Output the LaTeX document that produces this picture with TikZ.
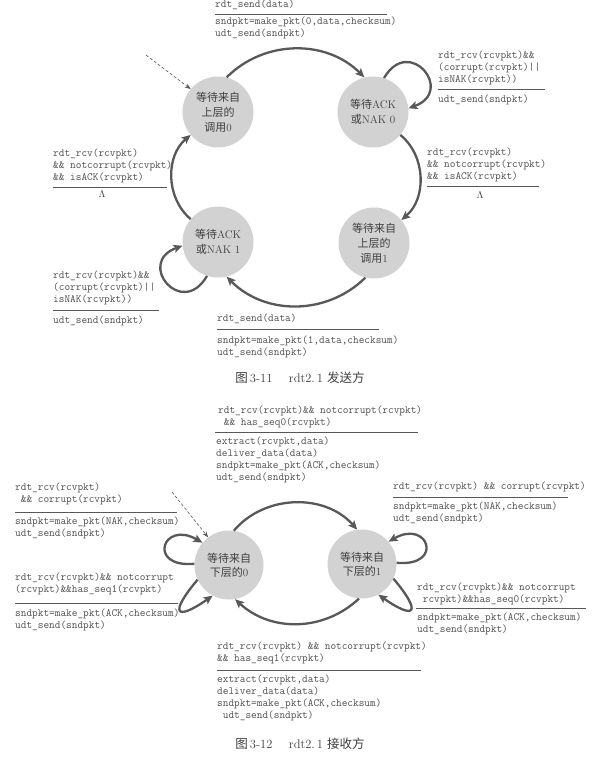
\documentclass[tikz,border=0pt]{standalone}
\usepackage{amsmath}
\usepackage{fontspec}
\newfontfamily\cjk{Noto Sans CJK SC}
\usepackage{tikz}
\usetikzlibrary{calc}
\usetikzlibrary{arrows.meta}

\definecolor{stategray}{RGB}{210,210,210}
\definecolor{arrowgray}{RGB}{88,88,88}
\definecolor{textgray}{RGB}{78,78,78}
\definecolor{labelgray}{RGB}{62,62,62}

\tikzset{
    fsmstate/.style={circle, fill=stategray, inner sep=0pt, align=center, text=labelgray},
    flow/.style={draw=arrowgray, line width=2.3pt, -{Stealth[length=9pt,width=8pt,inset=2pt]}},
    initarrow/.style={draw=arrowgray, line width=0.6pt, dash pattern=on 3pt off 2pt, -{Stealth[length=6pt,width=4.5pt]}},
    code/.style={font=\fontsize{11}{12}\selectfont\ttfamily, text=textgray, align=left, inner sep=0pt, anchor=north west},
    seprule/.style={draw=arrowgray, line width=1pt},
    figcap/.style={font=\fontsize{12.5}{14}\selectfont, text=labelgray}
}

\begin{document}
\begin{tikzpicture}[x=1pt,y=1pt]
            \fill[white] (0,0) rectangle (607,-778);
            \useasboundingbox (0,0) rectangle (607,-778);

            % Centres of the states
            \coordinate (C1) at (218,-112);  % sender, call 0
            \coordinate (C2) at (373,-112);  % sender, ACK/NAK 0
            \coordinate (C3) at (218,-242);  % sender, ACK/NAK 1
            \coordinate (C4) at (374,-243);  % sender, call 1
            \coordinate (D0) at (229,-565);  % receiver, seq 0
            \coordinate (D1) at (362,-564);  % receiver, seq 1

            % Draw sender states
            \node[fsmstate, minimum size=71pt, font=\fontsize{11}{15}\selectfont] (S1) at (C1) {{\cjk 等待来自}\\{\cjk 上层的}\\{\cjk 调用}0};
            \node[fsmstate, minimum size=71pt, font=\fontsize{11}{15}\selectfont] (S2) at (C2) {{\cjk 等待}ACK\\{\cjk 或}NAK 0};
            \node[fsmstate, minimum size=71pt, font=\fontsize{11}{15}\selectfont] (S3) at (C3) {{\cjk 等待}ACK\\{\cjk 或}NAK 1};
            \node[fsmstate, minimum size=71pt, font=\fontsize{11}{15}\selectfont] (S4) at (C4) {{\cjk 等待来自}\\{\cjk 上层的}\\{\cjk 调用}1};

            % Draw sender transitions
            \coordinate (I1) at (146,-55);
            \draw[initarrow] (I1) -- (S1.140);
            \draw[flow] (S1.76) to[bend left=45] (S2.104);
            \draw[flow] (S2.-40) to[bend left=50] (S4.40);
            \draw[flow] (S4.-104) to[bend left=45] (S3.-76);
            \draw[flow] (S3.140) to[bend left=50] (S1.220);
            \draw[flow] (S2.72) .. controls +(60:50) and +(20:50) .. (S2.6);
            \draw[flow] (S3.252) .. controls +(240:50) and +(200:50) .. (S3.186);

            % Sender labels
            \node[code] (g1) at (215,0) {rdt\_send(data)};
            \draw[seprule] (215,-14.5) -- (387,-14.5);
            \node[code] (a1) at (215,-17) {sndpkt=make\_pkt(0,data,checksum)\\udt\_send(sndpkt)};

            \node[code] (g2) at (438,-51) {rdt\_rcv(rcvpkt)\&\&\\(corrupt(rcvpkt)||\\isNAK(rcvpkt))};
            \draw[seprule] (438,-90) -- (545,-90);
            \node[code] (a2) at (438,-95) {udt\_send(sndpkt)};

            \node[code] (g3) at (427,-148) {rdt\_rcv(rcvpkt)\\\&\& notcorrupt(rcvpkt)\\\&\& isACK(rcvpkt)};
            \draw[seprule] (427,-186) -- (539,-186);
            \node[text=labelgray, inner sep=0pt] (a3) at (480,-195) {$\Lambda$};

            \node[code] (g4) at (53,-149) {rdt\_rcv(rcvpkt)\\\&\& notcorrupt(rcvpkt)\\\&\& isACK(rcvpkt)};
            \draw[seprule] (53,-187) -- (167,-187);
            \node[text=labelgray, inner sep=0pt] (a4) at (102,-194) {$\Lambda$};

            \node[code] (g5) at (53,-271) {rdt\_rcv(rcvpkt)\&\&\\(corrupt(rcvpkt)||\\isNAK(rcvpkt))};
            \draw[seprule] (53,-310) -- (159,-310);
            \node[code] (a5) at (53,-316) {udt\_send(sndpkt)};

            \node[code] (g6) at (217,-314) {rdt\_send(data)};
            \draw[seprule] (217,-329) -- (379,-329);
            \node[code] (a6) at (217,-336) {sndpkt=make\_pkt(1,data,checksum)\\udt\_send(sndpkt)};

            \node[figcap] (cap1) at (300,-378) {{\cjk 图}\,3-11\quad\ rdt2.\,1\ {\cjk 发送方}};

            % Draw receiver states
            \node[fsmstate, minimum size=69pt, font=\fontsize{11}{14}\selectfont] (R0) at (D0) {{\cjk 等待来自}\\{\cjk 下层的}0};
            \node[fsmstate, minimum size=69pt, font=\fontsize{11}{14}\selectfont] (R1) at (D1) {{\cjk 等待来自}\\{\cjk 下层的}1};

            % Draw receiver transitions
            \coordinate (I2) at (172,-492);
            \draw[initarrow] (I2) -- (R0.127);
            \draw[flow] (R0.82) to[bend left=49] (R1.98);
            \draw[flow] (R1.-95) to[bend left=43] (R0.-80);
            \draw[flow] (R0.178) .. controls +(185:48) and +(150:46) .. (R0.140);
            \draw[flow] (R0.-155) .. controls +(-130:46) and +(-145:44) .. (R0.-118);
            \draw[flow] (R1.2) .. controls +(-5:48) and +(30:46) .. (R1.40);
            \draw[flow] (R1.-25) .. controls +(-50:46) and +(-35:44) .. (R1.-62);

            % Receiver labels
            \node[code] (h1) at (218,-406) {rdt\_rcv(rcvpkt)\&\& notcorrupt(rcvpkt)\\\ \&\& has\_seq0(rcvpkt)};
            \draw[seprule] (215,-432) -- (418,-432);
            \node[code] (b1) at (216,-437) {extract(rcvpkt,data)\\deliver\_data(data)\\sndpkt=make\_pkt(ACK,checksum)\\udt\_send(sndpkt)};

            \node[code] (h2) at (15,-483) {rdt\_rcv(rcvpkt)\\\ \&\& corrupt(rcvpkt)};
            \draw[seprule] (15,-512) -- (177,-512);
            \node[code] (b2) at (15,-517) {sndpkt=make\_pkt(NAK,checksum)\\udt\_send(sndpkt)};

            \node[code] (h3) at (393,-482) {rdt\_rcv(rcvpkt) \&\& corrupt(rcvpkt)};
            \draw[seprule] (393,-497) -- (568,-497);
            \node[code] (b3) at (393,-502) {sndpkt=make\_pkt(NAK,checksum)\\udt\_send(sndpkt)};

            \node[code] (h4) at (15,-573) {rdt\_rcv(rcvpkt)\&\& notcorrupt\\(rcvpkt)\&\&has\_seq1(rcvpkt)};
            \draw[seprule] (15,-603) -- (178,-603);
            \node[code] (b4) at (15,-609) {sndpkt=make\_pkt(ACK,checksum)\\udt\_send(sndpkt)};

            \node[code] (h5) at (417,-583) {rdt\_rcv(rcvpkt)\&\& notcorrupt\\\ rcvpkt)\&\&has\_seq0(rcvpkt)};
            \draw[seprule] (416,-608) -- (586,-608);
            \node[code] (b5) at (417,-613) {sndpkt=make\_pkt(ACK,checksum)\\udt\_send(sndpkt)};

            \node[code] (h6) at (217,-642) {rdt\_rcv(rcvpkt) \&\& notcorrupt(rcvpkt)\\\&\& has\_seq1(rcvpkt)};
            \draw[seprule] (217,-670) -- (421,-670);
            \node[code] (b6) at (217,-675) {extract(rcvpkt,data)\\deliver\_data(data)\\sndpkt=make\_pkt(ACK,checksum)\\\ udt\_send(sndpkt)};

            \node[figcap] (cap2) at (300,-744) {{\cjk 图}\,3-12\quad\ rdt2.\,1\ {\cjk 接收方}};
\end{tikzpicture}
\end{document}
